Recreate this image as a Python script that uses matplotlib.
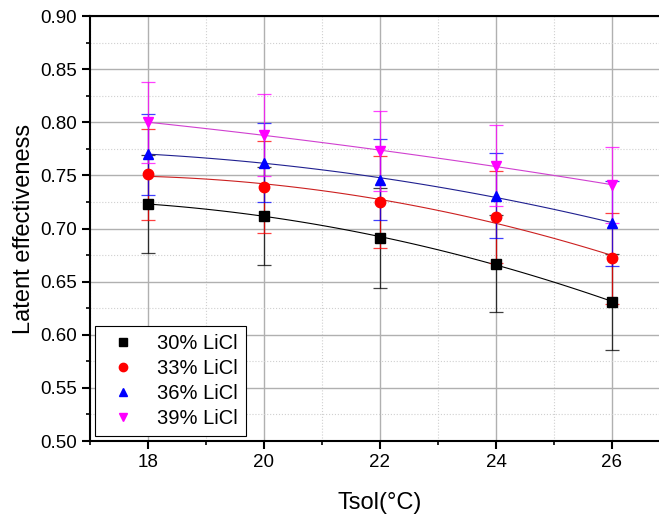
import matplotlib

matplotlib.use("Agg")
import matplotlib.pyplot as plt
import numpy as np
from matplotlib.ticker import MultipleLocator, FormatStrFormatter

plt.rcParams["font.family"] = ["Liberation Sans", "DejaVu Sans"]

tsol = [18, 20, 22, 24, 26]
labels = ["30% LiCl", "33% LiCl", "36% LiCl", "39% LiCl"]
eff_30 = [0.723, 0.712, 0.691, 0.667, 0.631]
eff_33 = [0.751, 0.739, 0.725, 0.711, 0.672]
eff_36 = [0.770, 0.762, 0.746, 0.731, 0.705]
eff_39 = [0.800, 0.788, 0.773, 0.759, 0.741]
err_30 = [0.046, 0.046, 0.047, 0.046, 0.045]
err_33 = [0.043, 0.043, 0.043, 0.043, 0.043]
err_36 = [0.038, 0.037, 0.038, 0.040, 0.040]
err_39 = [0.038, 0.039, 0.038, 0.038, 0.036]

series = [eff_30, eff_33, eff_36, eff_39]
errors = [err_30, err_33, err_36, err_39]
colors = ["black", "red", "blue", "magenta"]
fit_colors = ["black", "#cc2020", "#202090", "#d040d0"]
markers = ["s", "o", "^", "v"]

fig = plt.figure(figsize=(6.59, 5.17), dpi=100)
ax = fig.add_axes([0.1366, 0.147, 0.880, 0.822])

# smooth trend line for each series (quadratic fit of the points)
x_fit = np.linspace(tsol[0], tsol[-1], 100)
for y, err, c, fc, m, lab in zip(series, errors, colors, fit_colors, markers, labels):
    ax.errorbar(tsol, y, yerr=err, fmt="none", ecolor=c, elinewidth=0.9,
                capsize=5, capthick=0.9, alpha=0.75, zorder=3)
    coef = np.polyfit(tsol, y, 2)
    ax.plot(x_fit, np.polyval(coef, x_fit), color=fc, lw=0.8, zorder=3)
    ax.plot(tsol, y, linestyle="none", marker=m, color=c, markersize=7.5,
            label=lab, zorder=4)

ax.set_xlim(17, 27)
ax.set_ylim(0.50, 0.90)
ax.xaxis.set_major_locator(MultipleLocator(2))
ax.xaxis.set_minor_locator(MultipleLocator(1))
ax.yaxis.set_major_locator(MultipleLocator(0.05))
ax.yaxis.set_minor_locator(MultipleLocator(0.025))
ax.yaxis.set_major_formatter(FormatStrFormatter("%.2f"))

ax.grid(which="major", color="#b0b0b0", lw=1.0, zorder=0)
ax.grid(which="minor", color="#d0d0d0", lw=0.8, ls=":", zorder=0)
ax.set_axisbelow(True)

ax.tick_params(which="major", direction="out", length=6, width=1.5, labelsize=13.5)
ax.tick_params(which="minor", direction="out", length=3, width=1.2)
for s in ax.spines.values():
    s.set_linewidth(1.5)

ax.set_xlabel("Tsol(\u00b0C)", fontsize=17, labelpad=15)
ax.set_ylabel("Latent effectiveness", fontsize=17, labelpad=4)

leg = ax.legend(loc="lower left", fontsize=14.5, fancybox=False, edgecolor="black",
                framealpha=1, handletextpad=0.7, handlelength=2.0, borderpad=0.4,
                labelspacing=0.3, borderaxespad=0.25, markerscale=0.8)
leg.get_frame().set_linewidth(0.8)

fig.savefig("out.png", dpi=100)
